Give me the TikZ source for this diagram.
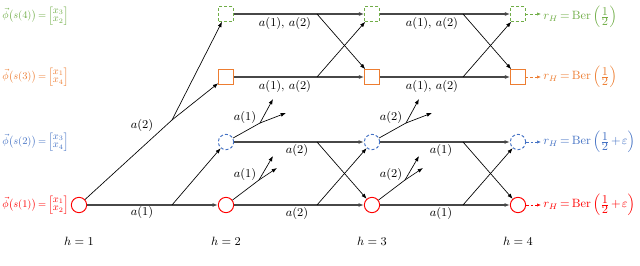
\documentclass[tikz,border=0pt]{standalone}
\usepackage{amsmath}
\usepackage{graphicx}
\usetikzlibrary{arrows.meta}
\definecolor{cgreen}{HTML}{70AD47}
\definecolor{corange}{HTML}{ED7D31}
\definecolor{cblue}{HTML}{4472C4}
\definecolor{cred}{HTML}{FF0000}
\newcommand{\myvec}[2]{\left[\renewcommand{\arraystretch}{0.68}\begin{array}{@{}c@{}}#1\\ #2\end{array}\right]}
\newcommand{\philab}[3]{\scalebox{0.85}{\thickmuskip=3mu$\vec{\phi}\bigl(s(#1)\bigr)=\myvec{#2}{#3}$}}
\newcommand{\myhalf}{\genfrac{}{}{}{}{\textstyle 1}{\textstyle 2}}
\newcommand{\berlab}[1]{\thickmuskip=3mu\medmuskip=2mu$r_H=\mathrm{Ber}\left(\myhalf#1\right)$}
\tikzset{
  tip/.style={-{Latex[length=4pt,width=3pt]}},
  thin line/.style={draw=black, line width=0.5pt},
  hline/.style={draw=black!72, line width=0.8pt},
  sqg/.style={draw=cgreen, dashed, dash pattern=on 2.2pt off 1.6pt, line width=0.7pt, minimum size=11pt, inner sep=0pt},
  sqo/.style={draw=corange, line width=0.7pt, minimum size=11pt, inner sep=0pt},
  cib/.style={circle, draw=cblue, dashed, dash pattern=on 2.2pt off 1.6pt, line width=0.7pt, minimum size=11.5pt, inner sep=0pt},
  cir/.style={circle, draw=cred, line width=0.7pt, minimum size=11.5pt, inner sep=0pt},
  lab/.style={font=\small, inner sep=1pt},
  edgelab/.style={font=\small, inner sep=0pt, anchor=west},
  rtip/.style={dashed, dash pattern=on 2pt off 1.5pt, line width=0.5pt, -{Latex[length=3pt,width=2.5pt]}},
}
\begin{document}
\begin{tikzpicture}[x=0.75pt,y=-0.75pt]
\path[use as bounding box] (0,0) rectangle (640,266);

% nodes
\node[cir] (n11) at (79,205) {};
\foreach \c/\x in {2/226,3/372,4/518}{
  \node[sqg] (n\c4) at (\x,14) {};
  \node[sqo] (n\c3) at (\x,77) {};
  \node[cib] (n\c2) at (\x,142) {};
  \node[cir] (n\c1) at (\x,205) {};
}

% left labels
\node[edgelab, text=cgreen] (l4) at (2,16) {\philab{4}{x_3}{x_2}};
\node[edgelab, text=corange] (l3) at (2,77) {\philab{3}{x_1}{x_4}};
\node[edgelab, text=cblue] (l2) at (2,142) {\philab{2}{x_3}{x_4}};
\node[edgelab, text=cred] (l1) at (2,205) {\philab{1}{x_1}{x_2}};

% h labels
\node[lab] (h1) at (79,241) {$h=1$};
\node[lab] (h2) at (226,241) {$h=2$};
\node[lab] (h3) at (372,241) {$h=3$};
\node[lab] (h4) at (518,241) {$h=4$};

% h=1 -> h=2
\coordinate (b1a) at (172,205);
\coordinate (b1b) at (172,120);
\draw[hline,tip] (n11) -- (n21);
\draw[thin line,tip] (b1a) -- (n22);
\draw[thin line] (n11) -- (b1b);
\draw[thin line,tip] (b1b) -- (n24);
\draw[thin line,tip] (b1b) -- (n23);
\node[lab] (t1a) at (142,213) {$a(1)$};
\node[lab] (t1b) at (142,126) {$a(2)$};

% h=2 -> h=3 and h=3 -> h=4
\foreach \a/\b/\bx/\lx/\hx/\hb in {2/3/317/285/297/a(2), 3/4/463/432/441/a(1)}{
  \coordinate (bg\a) at (\bx,14);
  \coordinate (bo\a) at (\bx,77);
  \coordinate (bb\a) at (\bx,142);
  \coordinate (br\a) at (\bx,205);
  \draw[hline,tip] (n\a4) -- (n\b4);
  \draw[hline,tip] (n\a3) -- (n\b3);
  \draw[hline,tip] (n\a2) -- (n\b2);
  \draw[hline,tip] (n\a1) -- (n\b1);
  \draw[thin line,tip] (bg\a) -- (n\b3);
  \draw[thin line,tip] (bo\a) -- (n\b4);
  \draw[thin line,tip] (bb\a) -- (n\b1);
  \draw[thin line,tip] (br\a) -- (n\b2);
  \node[lab] (tg\a) at (\lx,24) {$a(1),\,a(2)$};
  \node[lab] (to\a) at (\lx,87) {$a(1),\,a(2)$};
  \node[lab] (tb\a) at (\hx,151) {$\hb$};
  \node[lab] (tr\a) at (\hx,214) {$\hb$};
}

% side actions at h=2 (a(1)) and h=3 (a(2))
\foreach \a/\ox/\ac in {2/0/a(1), 3/146/a(2)}{
  \coordinate (sb\a) at ({260+\ox},123);
  \coordinate (sb\a p) at ({273+\ox},99);
  \coordinate (sb\a q) at ({286+\ox},113);
  \coordinate (sr\a) at ({259+\ox},180);
  \coordinate (sr\a p) at ({273+\ox},156);
  \coordinate (sr\a q) at ({277+\ox},168);
  \draw[thin line] (n\a2) -- (sb\a);
  \draw[thin line,tip] (sb\a) -- (sb\a p);
  \draw[thin line,tip] (sb\a) -- (sb\a q);
  \draw[thin line] (n\a1) -- (sr\a);
  \draw[thin line,tip] (sr\a) -- (sr\a p);
  \draw[thin line,tip] (sr\a) -- (sr\a q);
  \node[lab] (sbl\a) at ({245+\ox},118) {$\ac$};
  \node[lab] (srl\a) at ({245+\ox},175) {$\ac$};
}

% rewards
\coordinate (e4) at (541,14);
\coordinate (e3) at (541,77);
\coordinate (e2) at (541,142);
\coordinate (e1) at (541,205);
\draw[rtip, draw=cgreen] (n44) -- (e4);
\draw[rtip, draw=corange] (n43) -- (e3);
\draw[rtip, draw=cblue] (n42) -- (e2);
\draw[rtip, draw=cred] (n41) -- (e1);
\node[edgelab, text=cgreen] (r4) at (543,17) {\berlab{}};
\node[edgelab, text=corange] (r3) at (543,77) {\berlab{}};
\node[edgelab, text=cblue] (r2) at (543,142) {\berlab{+\varepsilon}};
\node[edgelab, text=cred] (r1) at (543,205) {\berlab{+\varepsilon}};
\end{tikzpicture}
\end{document}
